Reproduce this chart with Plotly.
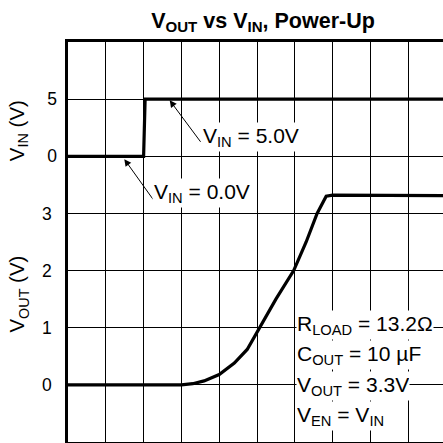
import plotly.graph_objects as go

# ---- data (x in grid divisions) ----
vin_x = [0.0, 2.0, 2.04, 9.92]
vin_v = [0.0, 0.0, 5.0, 5.0]

vout_x = [0.0, 3.0, 3.3, 3.6, 4.0, 4.4, 4.74, 5.07, 5.5, 5.97, 6.3, 6.59, 6.83, 7.0, 9.92]
vout_v = [0.0, 0.0, 0.02, 0.07, 0.18, 0.38, 0.62, 1.0, 1.5, 2.0, 2.5, 3.0, 3.3, 3.32, 3.31]

vout_ticks = [0, 1, 2, 3]
vin_ticks = [0, 5]

cond_lines = ["R<sub>LOAD</sub> = 13.2Ω", "C<sub>OUT</sub> = 10 µF",
              "V<sub>OUT</sub> = 3.3V", "V<sub>EN</sub> = V<sub>IN</sub>"]

FONT = "Liberation Sans, Arial, sans-serif"
TXT = 21

fig = go.Figure()
fig.add_trace(go.Scatter(x=vout_x, y=vout_v, mode="lines", yaxis="y",
                         line=dict(color="black", width=3.2), showlegend=False))
fig.add_trace(go.Scatter(x=vin_x, y=vin_v, mode="lines", yaxis="y2",
                         line=dict(color="black", width=3.2), showlegend=False))

grid = dict(showgrid=True, gridcolor="black", gridwidth=1.3, zeroline=False)

fig.update_layout(
    width=443, height=443,
    margin=dict(l=68, r=0, t=42, b=1),
    paper_bgcolor="white", plot_bgcolor="white",
    font=dict(family=FONT, color="black", size=17),
    title=dict(text="<b>V<sub>OUT</sub> vs V<sub>IN</sub>, Power-Up</b>",
               x=263 / 443, xanchor="center", xref="container",
               y=1 - 20 / 443, yanchor="middle", yref="container",
               font=dict(size=21.5, family=FONT, color="black")),
    xaxis=dict(range=[0, 9.92], dtick=1, tick0=0, showticklabels=False,
               showline=True, linecolor="black", linewidth=2.5, mirror=True,
               **grid),
    yaxis=dict(range=[-1, 6], tickvals=vout_ticks, showline=True,
               linecolor="black", linewidth=2.5, ticks="", ticklabelstandoff=10,
               tickfont=dict(size=17.5), **grid),
    yaxis2=dict(range=[-25, 10], tickvals=vin_ticks, overlaying="y", side="left",
                anchor="x", ticks="", ticklabelstandoff=10,
                tickfont=dict(size=17.5), showline=False, **grid),
)

ann = []
# axis titles
ann.append(dict(text="V<sub>IN</sub> (V)", xref="paper", yref="y", x=(18 - 68) / 375,
                y=4.44, textangle=-90, showarrow=False, xanchor="center",
                yanchor="middle", font=dict(size=20.5)))
ann.append(dict(text="V<sub>OUT</sub> (V)", xref="paper", yref="y", x=(18 - 68) / 375,
                y=1.58, textangle=-90, showarrow=False, xanchor="center",
                yanchor="middle", font=dict(size=20.5)))
# arrows
ann.append(dict(text="", x=2.69, y=4.9, xref="x", yref="y2", ax=32, ay=43,
                showarrow=True, arrowhead=2, arrowsize=1.4, arrowwidth=1,
                arrowcolor="black"))
ann.append(dict(text="", x=1.49, y=-0.25, xref="x", yref="y2", ax=30, ay=42,
                showarrow=True, arrowhead=2, arrowsize=1.4, arrowwidth=1,
                arrowcolor="black"))
# arrow labels
ann.append(dict(text="V<sub>IN</sub> = 5.0V", x=3.53, y=4.33, xref="x", yref="y",
                xanchor="left", yanchor="middle", showarrow=False,
                bgcolor="white", borderpad=1, font=dict(size=TXT)))
ann.append(dict(text="V<sub>IN</sub> = 0.0V", x=2.23, y=3.36, xref="x", yref="y",
                xanchor="left", yanchor="middle", showarrow=False,
                bgcolor="white", borderpad=1, font=dict(size=TXT)))
# conditions block
cond_y = [1.04, 0.517, -0.016, -0.543]
for t, yy in zip(cond_lines, cond_y):
    ann.append(dict(text=t, x=6.04, y=yy, xref="x", yref="y", xanchor="left",
                    yanchor="middle", showarrow=False, bgcolor="white",
                    height=28, borderpad=0, align="left", font=dict(size=TXT)))

fig.update_layout(annotations=ann)
fig.write_html("out.html", config={"displayModeBar": False},
               post_script="document.body.style.margin='0';document.body.style.overflow='hidden';")
